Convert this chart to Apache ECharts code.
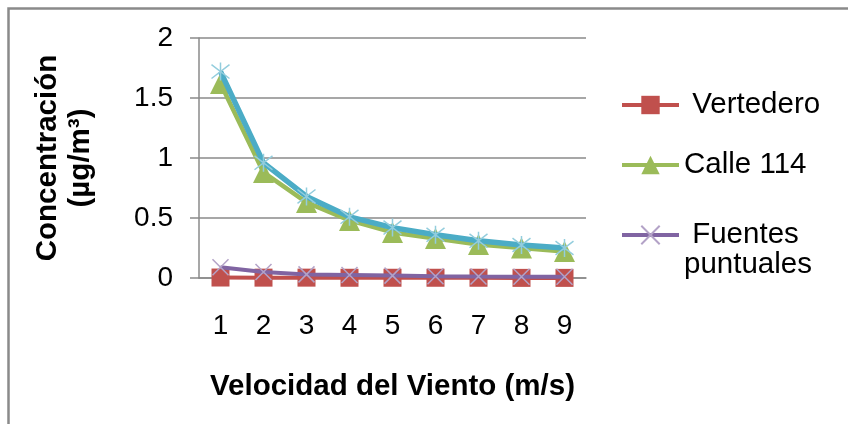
<!DOCTYPE html>
<html>
<head>
<meta charset="utf-8">
<script src="https://cdn.jsdelivr.net/npm/echarts@6/dist/echarts.min.js"></script>
<style>
html,body{margin:0;padding:0;background:#fff;}
#chart{width:848px;height:424px;}
</style>
</head>
<body>
<div id="chart"></div>
<script>
var categories = ['1','2','3','4','5','6','7','8','9'];
var vertedero = [0.004, 0.003, 0.003, 0.002, 0.002, 0.002, 0.002, 0.001, 0.001];
var calle114 = [1.62, 0.88, 0.63, 0.48, 0.38, 0.33, 0.28, 0.25, 0.22];
var fuentes = [0.09, 0.05, 0.03, 0.025, 0.02, 0.015, 0.012, 0.01, 0.01];
var total = [1.72, 0.96, 0.68, 0.51, 0.42, 0.36, 0.31, 0.275, 0.25];
var yTicks = [0, 0.5, 1, 1.5, 2];

var FONT = '"Liberation Sans", Arial, sans-serif';
var xPath = 'path://M0,0L10,10M10,0L0,10';
var starPath = 'path://M0,0L10,10M10,0L0,10M5,-1.5L5,11.5';

var chart = echarts.init(document.getElementById('chart'));
function legendCfg(name, top, lw, formatter) {
  return {
    data: [name],
    left: 620,
    top: top,
    padding: 0,
    itemWidth: 57,
    itemHeight: 23,
    selectedMode: false,
    lineStyle: {width: lw},
    textStyle: {fontFamily: FONT, fontSize: 29.5, color: '#000', lineHeight: 30},
    formatter: formatter
  };
}
var option = {
  animation: false,
  backgroundColor: '#fff',
  textStyle: {fontFamily: FONT},
  graphic: [{
    type: 'rect',
    shape: {x: 8.5, y: 8.5, width: 900, height: 500},
    style: {fill: 'none', stroke: '#8a8a8a', lineWidth: 2.5},
    silent: true
  }],
  legend: [
    legendCfg('Vertedero', 90, 4, function (n) { return ' ' + n; }),
    legendCfg('Calle 114', 150, 4, function (n) { return n; }),
    legendCfg('Fuentes puntuales', 190, 4, function () { return ' \n Fuentes\npuntuales'; })
  ],
  grid: {left: 199, right: 262, top: 38, bottom: 146, containLabel: false},
  xAxis: {
    type: 'category',
    data: categories,
    boundaryGap: true,
    name: 'Velocidad del Viento (m/s)',
    nameLocation: 'middle',
    nameGap: 94,
    nameTextStyle: {fontFamily: FONT, fontSize: 29.5, fontWeight: 'bold', color: '#000'},
    axisLine: {lineStyle: {color: '#8a8a8a', width: 1.5}},
    axisTick: {show: false},
    axisLabel: {fontFamily: FONT, fontSize: 28, color: '#000', margin: 34}
  },
  yAxis: {
    type: 'value',
    min: 0, max: 2, interval: 0.5,
    name: 'Concentración\n(µg/m³)',
    nameLocation: 'middle',
    nameRotate: 90,
    nameGap: 102,
    nameTextStyle: {fontFamily: FONT, fontSize: 29.5, fontWeight: 'bold', color: '#000', lineHeight: 33, align: 'center', padding: [0, 0, 0, 0]},
    axisLine: {show: true, lineStyle: {color: '#8a8a8a', width: 1.5}},
    axisTick: {show: true, length: 9, lineStyle: {color: '#8a8a8a', width: 1.5}},
    splitLine: {lineStyle: {color: '#8a8a8a', width: 1.5}},
    axisLabel: {fontFamily: FONT, fontSize: 28, color: '#000', margin: 26,
      formatter: function (v) { return yTicks.indexOf(v) >= 0 ? String(v) : ''; }}
  },
  series: [
    {
      name: 'Vertedero', type: 'line', data: vertedero,
      symbol: 'rect', symbolSize: 18, z: 2,
      lineStyle: {color: '#C0504D', width: 4},
      itemStyle: {color: '#C0504D', borderWidth: 0}
    },
    {
      name: 'Calle 114', type: 'line', data: calle114,
      symbol: 'triangle', symbolSize: 21, z: 3,
      lineStyle: {color: '#9BBB59', width: 4.5},
      itemStyle: {color: '#9BBB59', borderWidth: 0}
    },
    {
      name: 'Fuentes puntuales', type: 'line', data: fuentes,
      symbol: xPath, symbolSize: 16, z: 4,
      lineStyle: {color: '#8064A2', width: 4},
      itemStyle: {color: '#B3A2C7', borderColor: '#B3A2C7', borderWidth: 1.5}
    },
    {
      name: 'Total', type: 'line', data: total,
      symbol: starPath, symbolSize: 18, z: 5,
      lineStyle: {color: '#4BACC6', width: 5.5},
      itemStyle: {color: '#93CDDD', borderColor: '#93CDDD', borderWidth: 1.5}
    }
  ]
};
chart.setOption(option);
</script>
</body>
</html>
